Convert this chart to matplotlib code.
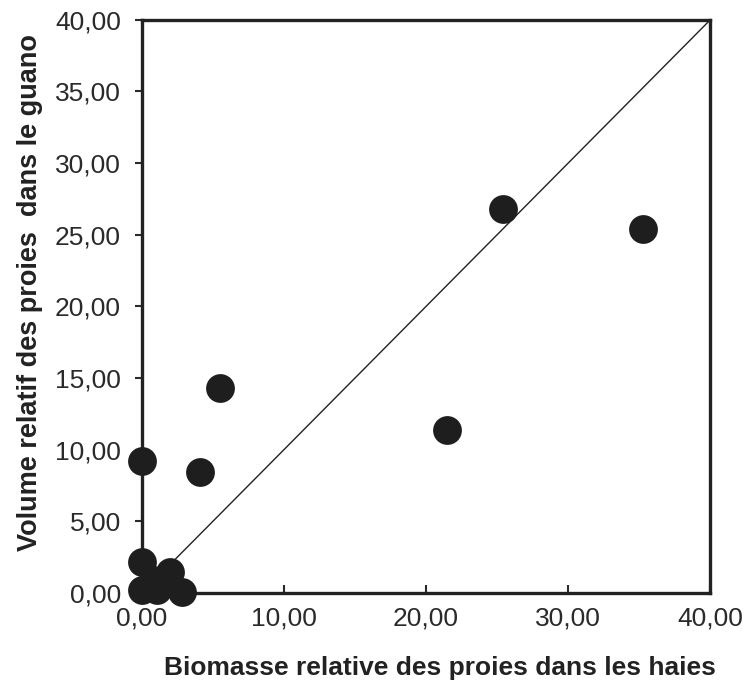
import matplotlib.pyplot as plt
from matplotlib.ticker import FuncFormatter

# biomasse relative dans les haies (x) vs volume relatif dans le guano (y)
biomasse_haies = [0.0, 4.1, 5.5, 21.5, 25.4, 35.3, 0.0, 0.0, 0.8, 1.1, 2.0, 2.8]
volume_guano = [9.2, 8.45, 14.3, 11.4, 26.8, 25.4, 2.2, 0.2, 0.9, 0.2, 1.5, 0.1]
ligne_ref = [0, 40]
ticks_x = [0, 10, 20, 30, 40]
ticks_y = [0, 5, 10, 15, 20, 25, 30, 35, 40]

plt.rcParams['font.family'] = ['Liberation Sans', 'DejaVu Sans']

fig = plt.figure(figsize=(7.54, 6.84), dpi=100)
ax = fig.add_axes([0.188, 0.133, 0.754, 0.838])

ax.plot(ligne_ref, ligne_ref, color='#222222', lw=1.0, zorder=2)
ax.scatter(biomasse_haies, volume_guano, s=430, color='#1e1e1e', zorder=3, clip_on=False, linewidths=0)

ax.set_xlim(0, 40)
ax.set_ylim(0, 40)
ax.set_xticks(ticks_x)
ax.set_yticks(ticks_y)
fmt = FuncFormatter(lambda v, p: f"{v:.2f}".replace('.', ','))
ax.xaxis.set_major_formatter(fmt)
ax.yaxis.set_major_formatter(fmt)

for s in ax.spines.values():
    s.set_linewidth(2.4)
    s.set_color('#222222')

ax.tick_params(axis='x', direction='in', length=6, width=1.5, labelsize=19, colors='#2a2a2a', pad=10)
ax.tick_params(axis='y', direction='out', length=5, width=1.5, labelsize=19, colors='#2a2a2a', pad=10)

ax.set_xlabel('Biomasse relative des proies dans les haies', fontsize=19, fontweight='bold', color='#222222', va='center')
ax.set_ylabel('Volume relatif des proies  dans le guano', fontsize=19.5, fontweight='bold', color='#222222', va='center')
ax.xaxis.set_label_coords(0.525, -0.131)
ax.yaxis.set_label_coords(-0.197, 0.525)

fig.savefig('out.png', dpi=100)
